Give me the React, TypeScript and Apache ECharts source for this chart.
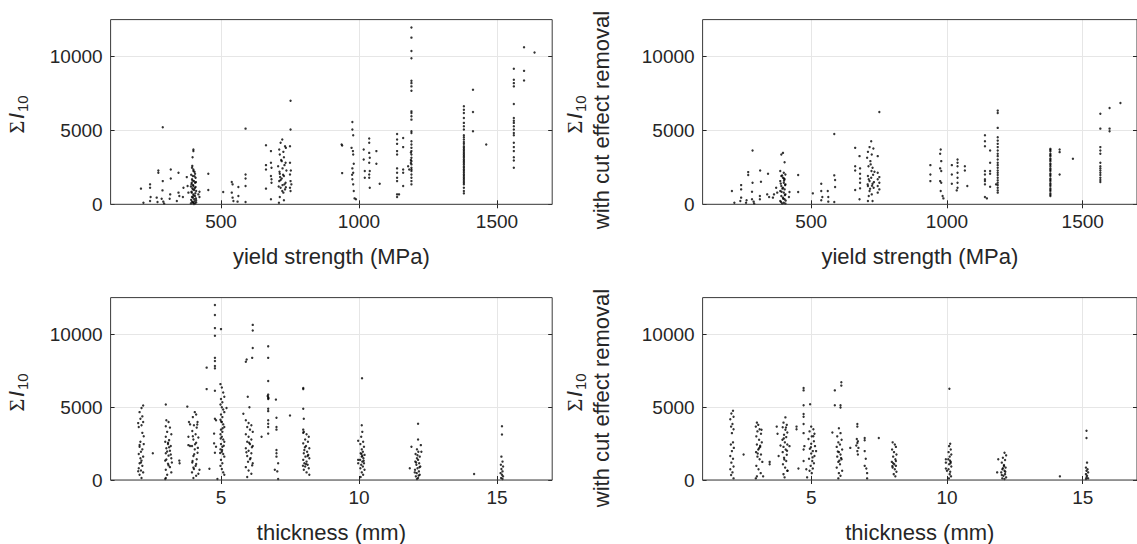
import React, { useEffect, useRef } from "react";
import * as echarts from "echarts";

const W = 1137;
const H = 544;

const yieldTicks = [500, 1000, 1500];
const thickTicks = [5, 10, 15];
const sumTicks = [0, 5000, 10000];

// Sum I10 vs yield strength (MPa)
const yieldVsSum: number[][] = [
  [210,1060],[219,110],[243,1350],[243,1120],[245,490],[243,225],[273,2290],[273,2140],[267,450],[270,160],
  [289,5210],[289,1570],[288,940],[285,380],[291,180],[294,45],[318,2360],[318,1750],[316,670],[314,380],
  [346,2140],[346,790],[349,560],[340,225],[364,1120],[362,490],[376,1840],[379,1240],[382,790],
  [400,3710],[400,3600],[397,3190],[395,2470],[400,2360],[400,2250],[406,2070],[398,1910],[408,1800],[395,1690],
  [402,1570],[406,1460],[393,1350],[400,1240],[408,1170],[396,1080],[403,970],[410,900],[394,790],[400,670],
  [406,560],[398,450],[403,340],[410,270],[395,180],[400,90],[406,45],[392,2000],[404,1900],[397,1600],
  [409,1500],[391,1200],[405,1100],[399,1000],[393,850],[407,750],[401,600],[395,500],[409,400],[392,300],
  [404,200],[398,130],[391,60],[402,20],[410,130],[396,2600],[404,2200],[399,1300],[394,1450],
  [422,850],[422,490],[418,670],[454,2070],[454,970],
  [508,830],[539,1510],[542,1350],[539,790],[542,450],[545,225],[563,1170],[563,560],[560,180],
  [589,2020],[589,1750],[589,1240],[589,160],[589,5120],
  [663,4000],[663,2650],[663,2360],[663,1060],[681,3600],[681,2810],[683,2470],[681,1910],[683,1690],[683,1460],[681,340],
  [722,4380],[716,4160],[732,3930],[711,3710],[726,3550],[735,3820],[713,3370],[728,3190],[720,2920],[734,2810],
  [707,2580],[723,2430],[737,2290],[713,2070],[728,1910],[720,1750],[711,1570],[734,1460],[723,1300],[716,1120],
  [732,1010],[726,790],[713,490],[728,270],[710,110],[718,3000],[730,2650],[712,2200],[725,2000],[716,1650],
  [730,1350],[709,1200],[722,900],[735,1150],[714,1850],
  [750,3930],[752,7010],[752,5060],[750,2810],[753,2290],[750,2020],[752,1570],[755,1350],[750,1120],[752,900],
  [937,4050],[939,3980],[939,2110],[976,5570],[976,5060],[979,4670],[973,3820],[979,3370],[981,2740],[976,2430],
  [979,2140],[976,1690],[979,1350],[981,900],[984,400],[989,340],[978,3600],[975,2000],
  [1017,3710],[1017,3030],[1021,1800],[1021,2250],[1037,4450],[1037,4160],[1037,3480],[1039,3150],[1037,2810],
  [1039,2250],[1037,2020],[1037,1800],[1039,1120],[1063,3600],[1063,2740],[1075,1390],
  [1138,4760],[1138,4380],[1138,4090],[1138,3600],[1138,3370],[1138,2430],[1138,2140],[1138,1800],[1138,1570],
  [1138,670],[1138,490],[1145,670],[1160,4490],[1160,3870],[1160,2360],[1160,2140],[1160,1240],
  [1190,11960],[1190,11280],[1190,10380],[1190,9890],[1190,8360],[1190,8200],[1190,7980],[1190,7690],[1190,6290],
  [1190,6180],[1190,5960],[1190,5730],[1190,4940],[1190,4830],[1190,4270],[1190,4050],[1190,3820],[1190,3600],
  [1190,3370],[1190,3150],[1190,2920],[1190,2700],[1190,2470],[1190,2360],[1190,2250],[1190,2020],[1190,1800],
  [1190,1570],[1190,1350],[1178,2580],[1182,2360],[1188,3000],[1188,3500],[1188,2800],
  [1380,6630],[1380,6400],[1380,6180],[1380,5840],[1380,5510],[1380,5280],[1380,5060],[1380,4670],[1380,4540],
  [1380,4380],[1380,4220],[1380,4090],[1380,3930],[1380,3820],[1380,3710],[1380,3600],[1380,3480],[1380,3370],
  [1380,3260],[1380,3150],[1380,3030],[1380,2920],[1380,2810],[1380,2700],[1380,2580],[1380,2470],[1380,2360],
  [1380,2250],[1380,2140],[1380,2020],[1380,1910],[1380,1800],[1380,1690],[1380,1570],[1380,1460],[1380,1350],
  [1380,1120],[1380,900],[1380,740],
  [1413,7750],[1413,6250],[1413,4940],[1461,4050],
  [1561,9170],[1561,8430],[1561,8200],[1561,7980],[1561,6790],[1561,5840],[1561,5660],[1561,5510],[1561,5280],
  [1561,5060],[1561,4830],[1561,4670],[1561,4160],[1561,3870],[1561,3600],[1561,3190],[1561,2970],[1561,2470],
  [1598,10630],[1598,9030],[1598,8380],[1636,10270],
];

// Sum I10 with cut effect removal vs yield strength (MPa)
const yieldVsSumCut: number[][] = [
  [208,900],[217,110],[242,1300],[242,1010],[242,450],[239,225],[268,2180],[268,1980],[262,270],[260,110],
  [284,3640],[284,1460],[282,850],[282,340],[288,180],[290,45],[312,2290],[315,1530],[311,560],[311,340],
  [341,2070],[338,670],[345,490],[359,450],[363,670],[371,1120],[375,790],
  [396,3480],[390,3370],[402,2850],[386,2250],[399,2140],[405,2020],[390,1910],[396,1800],[402,1690],[386,1570],
  [399,1460],[405,1350],[390,1240],[396,1120],[402,1010],[386,900],[399,790],[405,670],[390,560],[396,450],
  [402,340],[386,225],[399,110],[405,45],[393,1950],[400,1750],[388,1400],[404,1300],[394,1060],[391,850],
  [403,620],[397,380],[389,160],[406,250],[393,50],[400,1600],
  [420,830],[418,490],[452,1980],[452,830],
  [506,740],[537,1390],[537,900],[541,490],[537,270],[561,900],[563,490],[563,180],[585,4760],[585,1960],
  [588,1640],[588,1170],[585,160],
  [662,3820],[662,2580],[662,2290],[662,970],[678,3260],[680,2430],[680,2070],[680,1750],[680,1460],[680,1080],[678,340],
  [721,4270],[715,3870],[729,3780],[709,3550],[723,3370],[706,3150],[718,2920],[711,2580],[726,2470],[733,2200],
  [709,1910],[721,1800],[715,1570],[726,1390],[709,1240],[730,1120],[715,900],[723,670],[712,560],[709,225],
  [726,225],[719,2700],[728,2000],[712,1700],[724,1250],[717,1050],[731,1500],[708,1350],[722,2250],
  [745,3260],[751,6250],[745,2140],[751,1840],[745,1690],[751,1460],[745,1240],[751,1010],[745,790],
  [939,2650],[939,2020],[939,1570],[977,3710],[975,3420],[979,2920],[975,2430],[979,2250],[975,1570],[979,1460],
  [977,900],[984,560],[987,400],
  [1018,2650],[1018,2020],[1018,1390],[1039,3030],[1039,2810],[1039,2580],[1039,2140],[1039,1800],[1039,1460],
  [1039,1120],[1036,940],[1066,2580],[1066,2290],[1075,1240],
  [1140,4670],[1140,4270],[1140,3930],[1140,2250],[1140,2020],[1140,1690],[1140,1570],[1140,1350],[1140,490],
  [1147,400],[1159,3640],[1159,2810],[1159,2250],[1159,2070],[1159,1190],
  [1187,6340],[1187,6180],[1187,5170],[1187,4540],[1187,4310],[1187,4090],[1187,3870],[1187,3640],[1187,3420],
  [1187,3260],[1187,3030],[1187,2810],[1187,2650],[1187,2470],[1187,2290],[1187,2140],[1187,1980],[1187,1800],
  [1187,1620],[1187,1460],[1187,1300],[1187,1120],[1187,940],[1187,790],[1181,1350],
  [1381,3750],[1381,3670],[1381,3590],[1381,3420],[1381,3340],[1381,3260],[1381,3100],[1381,3010],[1381,2920],
  [1381,2760],[1381,2680],[1381,2580],[1381,2430],[1381,2340],[1381,2250],[1381,2090],[1381,2000],[1381,1910],
  [1381,1750],[1381,1660],[1381,1570],[1381,1420],[1381,1330],[1381,1240],[1381,1080],[1381,990],[1381,900],
  [1381,740],[1381,650],[1381,560],
  [1415,3710],[1415,3530],[1415,2020],[1464,3080],
  [1565,6130],[1565,5120],[1565,3870],[1565,3640],[1565,3420],[1565,2810],[1565,2580],[1565,2430],[1565,2290],
  [1565,2140],[1565,1980],[1565,1800],[1565,1640],[1565,1510],
  [1599,6520],[1599,5120],[1599,4940],[1639,6850],
];

// Sum I10 vs thickness (mm)
const thickVsSum: number[][] = [
  [2.18,5100],[2.12,4940],[2.05,4650],[2.15,4360],[2.08,4200],[2.18,3970],[2.12,3750],[2.02,3630],[2.15,3230],
  [2.08,2620],[2.2,2460],[2.05,2280],[2.15,2100],[2.1,1940],[2.02,1780],[2.18,1600],[2.08,1490],[2.12,1330],
  [2.05,1150],[2.15,970],[2.02,810],[2.1,650],[2.18,520],[2.05,360],[2.12,140],[2.0,3900],[2.2,3000],[2.05,2400],
  [2.1,1200],[2.0,600],
  [2.53,1830],
  [3.0,5170],[3.02,4090],[3.1,3970],[3.0,3680],[3.15,3590],[3.05,3300],[3.2,3140],[3.0,2960],[3.12,2730],
  [2.98,2620],[3.08,2460],[3.18,2330],[3.02,2170],[3.15,2010],[3.0,1830],[3.1,1670],[3.2,1490],[2.98,1330],
  [3.08,1110],[3.15,880],[3.0,700],[3.2,520],[3.05,360],[3.0,140],[2.98,70],[3.12,2250],[3.05,1950],[3.18,1750],
  [3.02,1400],[3.1,1000],[3.22,1200],[3.08,2550],
  [3.49,1330],[3.5,1150],
  [3.78,5030],[3.84,3970],[3.88,3810],[3.82,2960],[3.88,2330],[3.82,2390],
  [4.05,4650],[4.1,4490],[3.98,4310],[4.15,3970],[4.02,3750],[4.12,3590],[3.96,3360],[4.08,3140],[4.18,2910],
  [4.0,2780],[4.1,2550],[3.95,2330],[4.05,2100],[4.15,1870],[4.0,1650],[4.12,1420],[3.96,1200],[4.08,970],
  [4.02,750],[3.95,520],[4.1,290],[4.0,140],[4.14,3800],[3.98,3000],[4.06,2450],[4.16,2200],[4.03,1760],
  [3.97,1300],[4.1,1100],[4.0,850],
  [4.22,700],[4.18,430],[4.48,6230],[4.48,7700],[4.58,770],
  [4.78,11990],[4.78,11310],[4.78,10410],[4.78,9890],[4.78,8370],[4.78,8150],[4.78,7810],[4.78,7650],[4.78,6120],
  [4.78,4200],[4.82,4090],[4.75,3180],[4.75,2510],[4.82,2280],[4.78,1870],[4.87,70],
  [5.0,10340],
  [4.98,6570],[5.03,6340],[5.08,6000],[5.12,5710],[5.0,5550],[5.05,5330],[4.98,5170],[5.03,4990],[5.08,4830],
  [5.12,4650],[5.0,4490],[5.05,4310],[4.98,4130],[5.03,3970],[5.08,3810],[5.12,3630],[5.0,3450],[5.05,3300],
  [4.98,3140],[5.03,2960],[5.08,2780],[5.12,2620],[5.0,2460],[5.05,2280],[4.98,2100],[5.03,1940],[5.08,1780],
  [5.12,1600],[5.0,1380],[5.05,1150],[4.98,970],[5.03,750],[5.08,520],[5.12,360],[5.01,4000],[5.06,3550],
  [4.99,2850],[5.1,2350],[5.04,2050],[4.97,1850],
  [5.2,4940],
  [5.81,4540],[5.9,8100],[5.93,8260],[5.97,5710],[6.03,4990],
  [5.9,4090],[6.0,3910],[6.1,3750],[5.95,3630],[6.05,3450],[6.15,3300],[5.9,3140],[6.0,2960],[6.1,2780],
  [5.95,2620],[6.05,2460],[6.15,2330],[5.9,2170],[6.0,2010],[6.1,1830],[5.95,1650],[6.05,1420],[6.15,1150],
  [5.9,880],[6.0,650],[6.1,430],[5.95,200],[6.02,2550],[6.12,2250],[5.92,1900],[6.07,1500],[5.98,1250],[6.13,1000],
  [6.15,10630],[6.15,10250],[6.15,9050],[6.13,8370],
  [6.47,2960],
  [6.71,9160],[6.71,8370],[6.71,6790],[6.71,5850],[6.71,5670],[6.71,5550],[6.71,4880],[6.71,4720],[6.71,4090],
  [6.71,3860],[6.71,3630],[6.71,3180],[6.69,5750],[6.72,5600],
  [6.99,5510],[7.01,4270],[7.01,3630],[7.01,3450],[7.01,2050],[7.01,1830],[7.01,1600],[6.95,700],[7.04,590],
  [7.07,70],[7.07,1150],
  [7.5,4420],
  [7.98,6300],[7.98,6230],[7.98,4880],[8.0,4200],[7.98,3450],[7.98,3230],
  [8.0,3300],[8.1,3140],[8.18,2960],[8.05,2780],[8.15,2620],[7.98,2510],[8.08,2330],[8.2,2170],[8.02,2050],
  [8.12,1940],[8.0,1830],[8.16,1720],[8.06,1600],[8.2,1490],[7.98,1380],[8.1,1260],[8.02,1150],[8.14,1040],
  [8.05,930],[8.18,810],[8.0,700],[8.1,520],[8.2,360],[8.04,2250],[8.14,1650],[8.08,1100],[7.97,980],
  [10.11,6970],[9.97,2690],[9.97,1150],[9.97,1380],
  [10.1,3750],[10.12,3300],[10.08,2960],[10.15,2620],[10.05,2460],[10.18,2280],[10.1,2100],[10.14,1940],
  [10.06,1830],[10.2,1720],[10.1,1600],[10.16,1490],[10.04,1380],[10.12,1260],[10.18,1150],[10.08,1040],
  [10.14,930],[10.05,810],[10.2,700],[10.1,520],[10.15,360],[10.06,200],[10.12,1650],[10.17,1320],[10.09,1780],
  [12.14,3860],[12.14,2780],[11.9,2280],[12.24,2390],[12.26,1940],[11.84,810],
  [12.1,2100],[12.15,1940],[12.05,1780],[12.2,1600],[12.1,1490],[12.14,1380],[12.04,1260],[12.18,1150],
  [12.08,1040],[12.22,930],[12.12,810],[12.03,700],[12.17,590],[12.09,470],[12.2,360],[12.06,250],[12.14,140],
  [12.1,70],[12.12,1700],[12.07,1200],[12.19,870],[12.02,520],[12.16,300],
  [14.17,410],
  [15.18,3680],[15.18,3120],[15.16,1600],[15.2,1260],[15.14,1040],[15.22,930],[15.16,750],[15.2,590],
  [15.13,470],[15.18,360],[15.22,250],[15.15,140],[15.2,70],
];

// Sum I10 with cut effect removal vs thickness (mm)
const thickVsSumCut: number[][] = [
  [2.12,4740],[2.06,4560],[2.14,4340],[2.02,4160],[2.1,3840],[2.05,3660],[2.14,3480],[2.08,3210],[2.12,2580],
  [2.04,2430],[2.15,2200],[2.08,1980],[2.02,1640],[2.12,1460],[2.06,1190],[2.14,920],[2.02,740],[2.1,520],
  [2.05,340],[2.14,110],
  [2.51,1750],
  [3.0,3930],[3.05,3780],[2.96,3660],[3.1,3480],[3.02,3330],[3.15,3170],[2.98,2990],[3.08,2760],[3.18,2580],
  [3.0,2430],[3.12,2270],[3.05,2090],[2.97,1910],[3.15,1750],[3.02,1600],[3.1,1420],[3.2,1240],[2.98,970],
  [3.06,740],[3.14,470],[3.0,250],[2.96,110],[3.08,2180],[3.12,2350],[3.03,1820],
  [3.17,3440],[3.23,250],[3.47,1240],[3.47,1080],[3.73,3660],[3.76,3170],[3.8,1640],[3.87,2360],
  [4.05,4290],[3.98,3930],[4.1,3780],[3.95,3620],[4.05,3440],[4.12,3260],[4.0,3100],[4.08,2940],[3.94,2760],
  [4.03,2580],[4.12,2430],[3.98,2270],[4.06,2090],[3.95,1910],[4.1,1730],[4.0,1530],[4.08,1300],[3.96,1080],
  [4.04,850],[4.12,630],[3.98,400],[4.02,180],[4.07,3600],[3.99,2850],[4.11,2000],[4.01,1400],
  [4.2,2320],[4.13,630],[4.46,3660],[4.46,3480],[4.53,790],
  [4.72,6310],[4.72,6140],[4.72,5120],[4.72,4520],[4.72,4340],[4.72,3840],[4.72,3210],[4.75,2320],[4.72,2090],
  [4.72,1300],[4.85,180],[4.82,740],
  [4.96,5190],
  [5.0,3660],[5.08,3480],[4.94,3330],[5.12,3170],[5.02,2990],[4.9,2810],[5.1,2650],[5.0,2490],[5.14,2320],
  [4.95,2140],[5.06,1980],[5.0,1820],[5.12,1640],[4.92,1460],[5.04,1300],[5.1,1150],[4.98,970],[5.06,790],
  [4.94,630],[5.02,470],[5.08,3000],[4.99,2250],[5.05,1550],
  [5.18,1980],
  [5.87,6140],[5.87,5120],[5.78,3260],[6.11,6700],[6.11,6470],[6.08,5120],[6.08,4970],
  [6.02,3550],[6.08,3210],[5.96,2990],[6.12,2760],[6.0,2580],[6.06,2430],[5.94,2270],[6.14,2090],[6.02,1910],
  [6.08,1750],[5.96,1600],[6.12,1420],[6.0,1240],[6.06,1080],[5.94,850],[6.14,630],[6.02,470],[6.08,290],
  [6.0,110],[6.1,1500],[5.98,1950],[6.04,1330],
  [6.44,2200],
  [6.7,3840],[6.7,3660],[6.68,2810],[6.72,2650],[6.7,2540],[6.66,2360],[6.74,2200],[6.7,1980],[6.72,1750],
  [6.97,2880],[6.97,2720],[6.97,1980],[7.01,1460],[6.97,970],[7.03,790],[7.06,470],[7.06,110],[7.49,2880],
  [8.0,2580],[8.08,2430],[8.12,2270],[7.98,2090],[8.05,1910],[8.14,1750],[8.02,1600],[8.1,1420],[7.97,1240],
  [8.06,1080],[8.12,970],[8.0,850],[8.08,740],[8.14,560],[8.04,400],[8.1,250],[8.02,1150],[8.12,1300],[7.99,950],
  [10.09,6250],[9.96,1420],[9.96,1190],[9.96,790],[10.0,630],
  [10.12,2490],[10.08,2320],[10.14,2090],[10.06,1910],[10.16,1750],[10.1,1600],[10.05,1420],[10.14,1240],
  [10.08,1080],[10.16,920],[10.06,740],[10.12,560],[10.1,400],[10.15,250],[10.07,110],[10.11,1330],[10.13,1150],
  [11.89,1420],[11.85,520],
  [12.12,1870],[12.18,1690],[12.06,1530],[12.14,1370],[12.02,1190],[12.1,1030],[12.16,850],[12.04,740],
  [12.12,630],[12.0,520],[12.14,400],[12.08,290],[12.18,180],[12.04,110],[12.12,70],[12.1,950],[12.06,800],
  [12.15,560],[12.02,340],
  [14.16,250],
  [15.14,3370],[15.14,2880],[15.16,1190],[15.12,850],[15.18,740],[15.14,630],[15.2,520],[15.12,400],[15.16,290],
  [15.14,180],[15.2,110],[15.12,70],
];

const FONT = "'Liberation Sans', Arial, Helvetica, sans-serif";
const SERIF = "'Liberation Serif', 'DejaVu Serif', serif";
const AX = "#262626";
const GRIDC = "#e6e6e6";

type Panel = {
  left: number; top: number; width: number; height: number;
  xMin: number; xMax: number; xTicks: number[]; xName: string; data: number[][];
};

const panels: Panel[] = [
  { left: 110.6, top: 19.6, width: 441.6, height: 184.7, xMin: 100, xMax: 1700, xTicks: yieldTicks, xName: "yield strength (MPa)", data: yieldVsSum },
  { left: 702.6, top: 19.6, width: 440.6, height: 184.7, xMin: 100, xMax: 1700, xTicks: yieldTicks, xName: "yield strength (MPa)", data: yieldVsSumCut },
  { left: 110.6, top: 297.6, width: 441.6, height: 185.4, xMin: 1, xMax: 17, xTicks: thickTicks, xName: "thickness (mm)", data: thickVsSum },
  { left: 702.6, top: 297.6, width: 440.6, height: 185.4, xMin: 1, xMax: 17, xTicks: thickTicks, xName: "thickness (mm)", data: thickVsSumCut },
];

const plain = (v: number) => String(v);

function sumTitle(cx: number, startY: number) {
  const base = { fill: AX, align: "left", verticalAlign: "middle", textAlign: "left", textVerticalAlign: "middle" };
  return {
    type: "group",
    x: cx,
    y: startY,
    rotation: Math.PI / 2,
    silent: true,
    children: [
      { type: "text", x: 0, y: 0, style: { ...base, text: "Σ", font: `22px ${SERIF}` } },
      { type: "text", x: 14.5, y: 0, style: { ...base, text: "I", font: `italic 22px ${FONT}` } },
      { type: "text", x: 21.5, y: 6, style: { ...base, text: "10", font: `15px ${FONT}` } },
    ],
  };
}

function cutTitle(cx: number, cy: number) {
  return {
    type: "text",
    x: cx,
    y: cy,
    rotation: Math.PI / 2,
    silent: true,
    style: {
      text: "with cut effect removal",
      font: `22px ${FONT}`,
      fill: AX,
      align: "center",
      verticalAlign: "middle",
      textAlign: "center",
      textVerticalAlign: "middle",
    },
  };
}

export default function App() {
  const ref = useRef<HTMLDivElement>(null);
  useEffect(() => {
    if (!ref.current) return;
    const chart = echarts.init(ref.current, undefined, { renderer: "svg", width: W, height: H });
    const grid: any[] = [];
    const xAxis: any[] = [];
    const yAxis: any[] = [];
    const series: any[] = [];
    panels.forEach((p, i) => {
      grid.push({
        left: p.left, top: p.top, width: p.width, height: p.height,
        show: true, borderColor: "#3a3a3a", borderWidth: 1, backgroundColor: "transparent", z: 5,
      });
      xAxis.push({
        gridIndex: i, type: "value", min: p.xMin, max: p.xMax, position: "bottom",
        axisLine: { show: false },
        axisTick: { show: true, inside: true, length: 4, lineStyle: { color: AX }, customValues: p.xTicks },
        axisLabel: { show: true, customValues: p.xTicks, formatter: plain, color: AX, fontSize: 19, fontFamily: FONT, margin: 8 },
        splitLine: { show: true, lineStyle: { color: GRIDC, width: 1 } },
        name: p.xName, nameLocation: "middle", nameGap: 41,
        nameTextStyle: { fontSize: 22, color: AX, fontFamily: FONT },
      });
      xAxis.push({
        gridIndex: i, type: "value", min: p.xMin, max: p.xMax, position: "top",
        axisLine: { show: false },
        axisTick: { show: true, inside: true, length: 4, lineStyle: { color: AX }, customValues: p.xTicks },
        axisLabel: { show: false },
        splitLine: { show: false },
      });
      yAxis.push({
        gridIndex: i, type: "value", min: 0, max: 12500, position: "left",
        axisLine: { show: false },
        axisTick: { show: true, inside: true, length: 4, lineStyle: { color: AX }, customValues: sumTicks },
        axisLabel: { show: true, customValues: sumTicks, formatter: plain, color: AX, fontSize: 19, fontFamily: FONT, margin: 8 },
        splitLine: { show: true, lineStyle: { color: GRIDC, width: 1 } },
      });
      yAxis.push({
        gridIndex: i, type: "value", min: 0, max: 12500, position: "right",
        axisLine: { show: false },
        axisTick: { show: true, inside: true, length: 4, lineStyle: { color: AX }, customValues: sumTicks },
        axisLabel: { show: false },
        splitLine: { show: false },
      });
      series.push({
        type: "scatter",
        xAxisIndex: i * 2,
        yAxisIndex: i * 2,
        data: p.data,
        symbol: "circle",
        symbolSize: 2.4,
        itemStyle: { color: "#000" },
        silent: true,
        z: 3,
      });
    });
    chart.setOption({
      animation: false,
      backgroundColor: "#ffffff",
      grid, xAxis, yAxis, series,
      graphic: [
        sumTitle(16.5, 133.5),
        sumTitle(574, 133.5),
        cutTitle(601, 120),
        sumTitle(16.5, 411.5),
        sumTitle(574, 411.5),
        cutTitle(601, 398),
      ],
    });
    return () => chart.dispose();
  }, []);
  return <div ref={ref} style={{ position: "fixed", left: 0, top: 0, width: W, height: H, background: "#fff" }} />;
}
